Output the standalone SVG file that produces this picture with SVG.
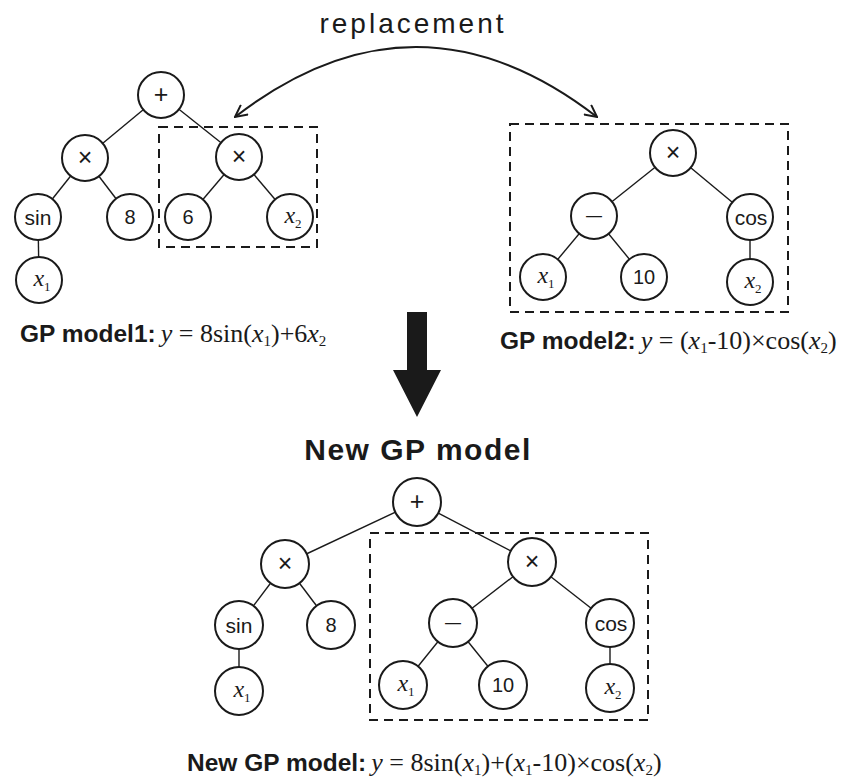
<svg xmlns="http://www.w3.org/2000/svg" width="861" height="777" viewBox="0 0 861 777">
  <style>
    .edge { stroke: #1a1a1a; stroke-width: 1.4; fill: none; }
    .node circle { fill: #ffffff; stroke: #1a1a1a; stroke-width: 2; }
    .op { font-family: "Liberation Sans", Arial, sans-serif; font-size: 25px; fill: #1a1a1a; text-anchor: middle; dominant-baseline: central; }
    .minus { font-family: "Liberation Sans", Arial, sans-serif; font-size: 16px; fill: #1a1a1a; text-anchor: middle; dominant-baseline: central; }
    .fn { font-family: "Liberation Sans", Arial, sans-serif; font-size: 21px; fill: #1a1a1a; text-anchor: middle; dominant-baseline: central; }
    .num { font-family: "Liberation Sans", Arial, sans-serif; font-size: 20px; fill: #1a1a1a; text-anchor: middle; dominant-baseline: central; }
    .var { font-family: "Liberation Serif", "Times New Roman", serif; font-size: 24px; fill: #1a1a1a; text-anchor: middle; }
    .var .v { font-style: italic; }
    .var .s { font-size: 13px; }
    .box { fill: none; stroke: #1a1a1a; stroke-width: 2; stroke-dasharray: 9 6; }
    .label { font-family: "Liberation Sans", Arial, sans-serif; font-weight: bold; font-size: 24.5px; fill: #1a1a1a; }
    .math { font-family: "Liberation Serif", "Times New Roman", serif; font-weight: normal; font-size: 26px; }
    .math .v { font-style: italic; }
    .math .s { font-size: 15px; }
    .title { font-family: "Liberation Sans", Arial, sans-serif; font-size: 28px; fill: #1a1a1a; text-anchor: middle; letter-spacing: 3px; }
    .heading { font-family: "Liberation Sans", Arial, sans-serif; font-weight: bold; font-size: 30px; fill: #1a1a1a; text-anchor: middle; letter-spacing: 1.5px; }
  </style>
  <defs>
    <marker id="open-head" viewBox="0 0 14 14" refX="13" refY="7" markerWidth="14" markerHeight="14" markerUnits="userSpaceOnUse" orient="auto-start-reverse">
      <path d="M1,1 L13,7 L1,13" fill="none" stroke="#1a1a1a" stroke-width="2"/>
    </marker>
  </defs>

  <rect width="861" height="777" fill="#ffffff"/>

  <!-- headings -->
  <text class="title" x="413" y="33">replacement</text>
  <text class="heading" x="418" y="460">New GP model</text>

  <!-- connectors -->
  <g id="connectors">
    <!-- model 1 -->
    <line class="edge" x1="161" y1="95" x2="85" y2="158"/>
    <line class="edge" x1="161" y1="95" x2="239" y2="157"/>
    <line class="edge" x1="85" y1="158" x2="38" y2="217"/>
    <line class="edge" x1="85" y1="158" x2="130" y2="217"/>
    <line class="edge" x1="239" y1="157" x2="188" y2="217"/>
    <line class="edge" x1="239" y1="157" x2="290" y2="217"/>
    <line class="edge" x1="38" y1="217" x2="39" y2="280"/>
    <!-- model 2 -->
    <line class="edge" x1="673" y1="153" x2="594" y2="216"/>
    <line class="edge" x1="673" y1="153" x2="750" y2="217"/>
    <line class="edge" x1="594" y1="216" x2="543" y2="277"/>
    <line class="edge" x1="594" y1="216" x2="644" y2="277"/>
    <line class="edge" x1="750" y1="217" x2="750" y2="282"/>
    <!-- new model -->
    <line class="edge" x1="417" y1="502" x2="285" y2="564"/>
    <line class="edge" x1="417" y1="502" x2="532" y2="562"/>
    <line class="edge" x1="285" y1="564" x2="239" y2="625"/>
    <line class="edge" x1="285" y1="564" x2="331" y2="625"/>
    <line class="edge" x1="239" y1="625" x2="239" y2="691"/>
    <line class="edge" x1="532" y1="562" x2="453" y2="623"/>
    <line class="edge" x1="532" y1="562" x2="610" y2="623"/>
    <line class="edge" x1="453" y1="623" x2="403" y2="685"/>
    <line class="edge" x1="453" y1="623" x2="503" y2="685"/>
    <line class="edge" x1="610" y1="623" x2="610" y2="688"/>
    <!-- replacement arrow -->
    <path d="M235,117 Q416,-23 597,117" fill="none" stroke="#1a1a1a" stroke-width="2" marker-start="url(#open-head)" marker-end="url(#open-head)"/>
    <!-- transition arrow -->
    <path d="M407,312 H427 V370 H441 L417,417 L393,370 H407 Z" fill="#1a1a1a"/>
  </g>

  <!-- subtree frames -->
  <rect class="box" x="159" y="127" width="158" height="120"/>
  <rect class="box" x="510" y="124" width="278" height="188"/>
  <rect class="box" x="370" y="533" width="278" height="187"/>

  <!-- model 1 nodes -->
  <g id="m1-plus" class="node"><circle cx="161" cy="95" r="23"/><text class="op" x="161" y="94">+</text></g>
  <g id="m1-times-l" class="node"><circle cx="85" cy="158" r="23"/><text class="op" x="85" y="157">×</text></g>
  <g id="m1-times-r" class="node"><circle cx="239" cy="157" r="23"/><text class="op" x="239" y="156">×</text></g>
  <g id="m1-sin" class="node"><circle cx="38" cy="217" r="23"/><text class="fn" x="38" y="217">sin</text></g>
  <g id="m1-8" class="node"><circle cx="130" cy="217" r="23"/><text class="num" x="130" y="217">8</text></g>
  <g id="m1-6" class="node"><circle cx="188" cy="217" r="23"/><text class="num" x="188" y="217">6</text></g>
  <g id="m1-x2" class="node"><circle cx="290" cy="217" r="23"/><text class="var" x="293" y="223"><tspan class="v">x</tspan><tspan class="s" dy="5">2</tspan></text></g>
  <g id="m1-x1" class="node"><circle cx="39" cy="280" r="23"/><text class="var" x="42" y="286"><tspan class="v">x</tspan><tspan class="s" dy="5">1</tspan></text></g>

  <!-- model 2 nodes -->
  <g id="m2-times" class="node"><circle cx="673" cy="153" r="23"/><text class="op" x="673" y="152">×</text></g>
  <g id="m2-minus" class="node"><circle cx="594" cy="216" r="23"/><text class="minus" x="594" y="215">—</text></g>
  <g id="m2-cos" class="node"><circle cx="750" cy="217" r="23"/><text class="fn" x="751" y="217">cos</text></g>
  <g id="m2-x1" class="node"><circle cx="543" cy="277" r="23"/><text class="var" x="546" y="283"><tspan class="v">x</tspan><tspan class="s" dy="5">1</tspan></text></g>
  <g id="m2-10" class="node"><circle cx="644" cy="277" r="23"/><text class="num" x="644" y="277">10</text></g>
  <g id="m2-x2" class="node"><circle cx="750" cy="282" r="23"/><text class="var" x="753" y="288"><tspan class="v">x</tspan><tspan class="s" dy="5">2</tspan></text></g>

  <!-- new model nodes -->
  <g id="n-plus" class="node"><circle cx="417" cy="502" r="24"/><text class="op" x="417" y="501">+</text></g>
  <g id="n-times-l" class="node"><circle cx="285" cy="564" r="24"/><text class="op" x="285" y="563">×</text></g>
  <g id="n-times-r" class="node"><circle cx="532" cy="562" r="24"/><text class="op" x="532" y="561">×</text></g>
  <g id="n-sin" class="node"><circle cx="239" cy="625" r="24"/><text class="fn" x="239" y="625">sin</text></g>
  <g id="n-8" class="node"><circle cx="331" cy="625" r="24"/><text class="num" x="331" y="625">8</text></g>
  <g id="n-x1" class="node"><circle cx="239" cy="691" r="24"/><text class="var" x="242" y="697"><tspan class="v">x</tspan><tspan class="s" dy="5">1</tspan></text></g>
  <g id="n-minus" class="node"><circle cx="453" cy="623" r="24"/><text class="minus" x="453" y="622">—</text></g>
  <g id="n-cos" class="node"><circle cx="610" cy="623" r="24"/><text class="fn" x="611" y="623">cos</text></g>
  <g id="n-x1b" class="node"><circle cx="403" cy="685" r="24"/><text class="var" x="406" y="691"><tspan class="v">x</tspan><tspan class="s" dy="5">1</tspan></text></g>
  <g id="n-10" class="node"><circle cx="503" cy="685" r="24"/><text class="num" x="503" y="685">10</text></g>
  <g id="n-x2" class="node"><circle cx="610" cy="688" r="24"/><text class="var" x="613" y="694"><tspan class="v">x</tspan><tspan class="s" dy="5">2</tspan></text></g>

  <!-- model formulas -->
  <text class="label" x="20" y="342">GP model1:<tspan class="math" dx="5"><tspan class="v">y</tspan> = 8sin(<tspan class="v">x</tspan><tspan class="s" dy="4">1</tspan><tspan dy="-4">)+6</tspan><tspan class="v">x</tspan><tspan class="s" dy="4">2</tspan></tspan></text>
  <text class="label" x="500" y="349">GP model2:<tspan class="math" dx="5"><tspan class="v">y</tspan> = (<tspan class="v">x</tspan><tspan class="s" dy="4">1</tspan><tspan dy="-4">-10)×cos(</tspan><tspan class="v">x</tspan><tspan class="s" dy="4">2</tspan><tspan dy="-4">)</tspan></tspan></text>
  <text class="label" x="187" y="771">New GP model:<tspan class="math" dx="5"><tspan class="v">y</tspan> = 8sin(<tspan class="v">x</tspan><tspan class="s" dy="4">1</tspan><tspan dy="-4">)+(</tspan><tspan class="v">x</tspan><tspan class="s" dy="4">1</tspan><tspan dy="-4">-10)×cos(</tspan><tspan class="v">x</tspan><tspan class="s" dy="4">2</tspan><tspan dy="-4">)</tspan></tspan></text>
</svg>
